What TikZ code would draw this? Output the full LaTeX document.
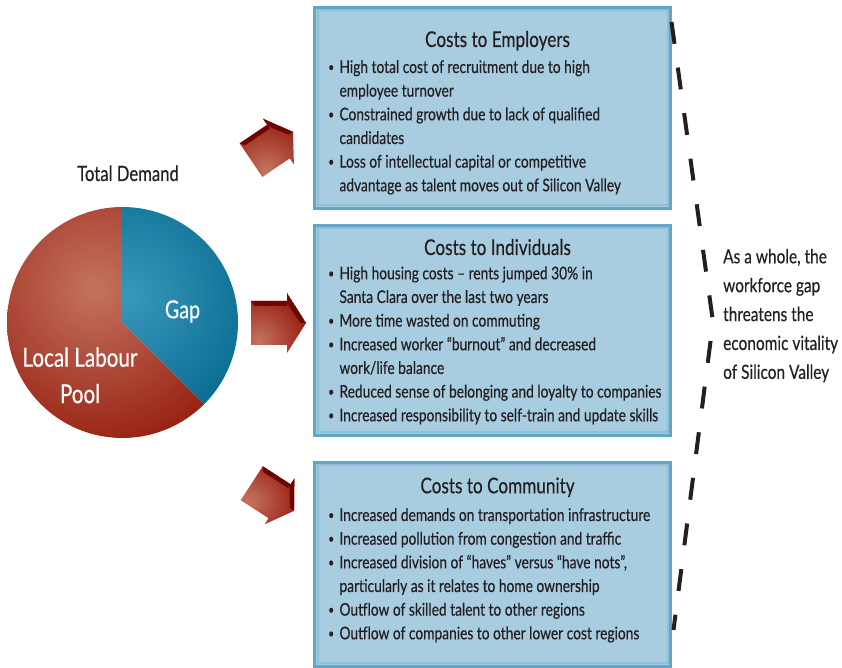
\documentclass[tikz,border=0pt]{standalone}
\usepackage{fontspec}
\setmainfont{Lato}[FakeStretch=0.79, FakeBold=0.35]
\definecolor{ink}{HTML}{231F20}
\definecolor{boxfill}{HTML}{A8CDE1}
\definecolor{boxedge}{HTML}{62A5C7}
\definecolor{boxinner}{HTML}{8CBFD8}
\definecolor{pielight}{HTML}{C4735F}
\definecolor{piedark}{HTML}{941A0C}
\definecolor{gaplight}{HTML}{3898BC}
\definecolor{gapdark}{HTML}{086A8F}
\definecolor{arrowlight}{HTML}{C4735F}
\definecolor{arrowdark}{HTML}{8E0C02}
\definecolor{arrowface}{HTML}{6E0600}
\tikzset{
  blockarrow/.pic={
    \begin{scope}
      \clip (-27.5,-22) -- (8.5,-22) -- (8.5,-30) -- (27.5,0) -- (8.5,30)
            -- (8.5,22) -- (-27.5,22) -- cycle;
      \shade[inner color=arrowlight, outer color=arrowdark] (-20,-18) circle[radius=60];
      \fill[arrowface] (-27.5,22) -- (8.5,22) -- (8.5,17) -- (-24,17) -- cycle;
      \fill[arrowface] (8.5,30) -- (27.5,0) -- (22,0) -- (8.5,20) -- cycle;
    \end{scope}
  }
}
\begin{document}
\begin{tikzpicture}[x=1bp,y=1bp,
  costbox/.style={draw=boxedge, line width=3bp, fill=boxfill},
  innerrim/.style={draw=boxinner, line width=2bp},
  boxtitle/.style={anchor=base, text=ink, inner sep=0pt,
    font=\fontsize{21.8}{26}\selectfont},
  boxlist/.style={anchor=base west, text=ink, inner sep=0pt,
    font=\fontsize{17.5}{23.75}\selectfont},
  sidenote/.style={anchor=base west, text=ink, inner sep=0pt,
    font=\fontsize{19.6}{29}\selectfont},
  pielabel/.style={anchor=base, text=white, inner sep=0pt},
  bracket/.style={draw=ink, line width=4bp, dash pattern=on 22bp off 24bp}
]
\useasboundingbox (0,0) rectangle (842,668);
\newcommand{\bl}{\makebox[11.3bp][l]{\raisebox{1.5bp}{\fontsize{13}{13}\selectfont\textbullet}}}

% ---- pie chart of total demand ----
\coordinate (pc) at (122.5,345.5);
\begin{scope}
  \clip (pc) -- ++(90:115.5) arc[start angle=90, end angle=315, radius=115.5] -- cycle;
  \shade[inner color=pielight, outer color=piedark] (95,380) circle[radius=175];
\end{scope}
\begin{scope}
  \clip (pc) -- ++(90:115.5) arc[start angle=90, end angle=-45, radius=115.5] -- cycle;
  \shade[inner color=gaplight, outer color=gapdark] (128,372) circle[radius=140];
\end{scope}
\node[anchor=base, text=ink, inner sep=0pt, font=\fontsize{21.2}{25}\selectfont]
  (total) at (128,487) {Total Demand};
\node[pielabel, font=\fontsize{25}{30}\selectfont] (gap) at (182.5,349.7) {Gap};
\node[pielabel, font=\fontsize{26.2}{36.6}\selectfont] (local) at (80,301.3)
  {\begin{tabular}[t]{@{}c@{}}Local Labour\\Pool\end{tabular}};

% ---- block arrows towards the three cost boxes ----
\pic[rotate=34, scale=0.92] at (272,522) {blockarrow};
\pic at (278.5,345) {blockarrow};
\pic[rotate=-33, scale=0.92] at (273,171) {blockarrow};

% ---- cost boxes ----
\draw[costbox] (314.5,660.5) rectangle (670.5,459.5);
\draw[innerrim] (317.5,657.5) rectangle (667.5,462.5);
\draw[costbox] (314.5,442.5) rectangle (670.5,232.5);
\draw[innerrim] (317.5,439.5) rectangle (667.5,235.5);
\draw[costbox] (314.5,205.5) rectangle (670.5,1.5);
\draw[innerrim] (317.5,202.5) rectangle (667.5,4.5);

\node[boxtitle] (t1) at (497.5,621) {Costs to Employers};
\node[boxlist] (l1) at (328,595) {\begin{tabular}[t]{@{}l@{}l@{}}
\bl & High total cost of recruitment due to high\\
    & employee turnover\\
\bl & Constrained growth due to lack of qualified\\
    & candidates\\
\bl & Loss of intellectual capital or competitive\\
    & advantage as talent moves out of Silicon Valley
\end{tabular}};

\node[boxtitle] (t2) at (497.5,413) {Costs to Individuals};
\node[boxlist] (l2) at (328,388.7) {\begin{tabular}[t]{@{}l@{}l@{}}
\bl & High housing costs -- rents jumped 30\% in\\
    & Santa Clara over the last two years\\
\bl & More time wasted on commuting\\
\bl & Increased worker “burnout” and decreased\\
    & work/life balance\\
\bl & Reduced sense of belonging and loyalty to companies\\
\bl & Increased responsibility to self-train and update skills
\end{tabular}};

\node[boxtitle] (t3) at (497.5,174.7) {Costs to Community};
\node[boxlist] (l3) at (328,147) {\begin{tabular}[t]{@{}l@{}l@{}}
\bl & Increased demands on transportation infrastructure\\
\bl & Increased pollution from congestion and traffic\\
\bl & Increased division of “haves” versus “have nots”,\\
    & particularly as it relates to home ownership\\
\bl & Outflow of skilled talent to other regions\\
\bl & Outflow of companies to other lower cost regions
\end{tabular}};

% ---- bracket and closing statement ----
\coordinate (btop) at (671.5,646);
\coordinate (bmid) at (713,346);
\coordinate (bbot) at (673.5,38);
\draw[bracket] (btop) -- (bmid) -- (bbot);
\node[sidenote] (note) at (723,404.7) {\begin{tabular}[t]{@{}l@{}}
As a whole, the\\ workforce gap\\ threatens the\\ economic vitality\\ of Silicon Valley
\end{tabular}};
\end{tikzpicture}
\end{document}
